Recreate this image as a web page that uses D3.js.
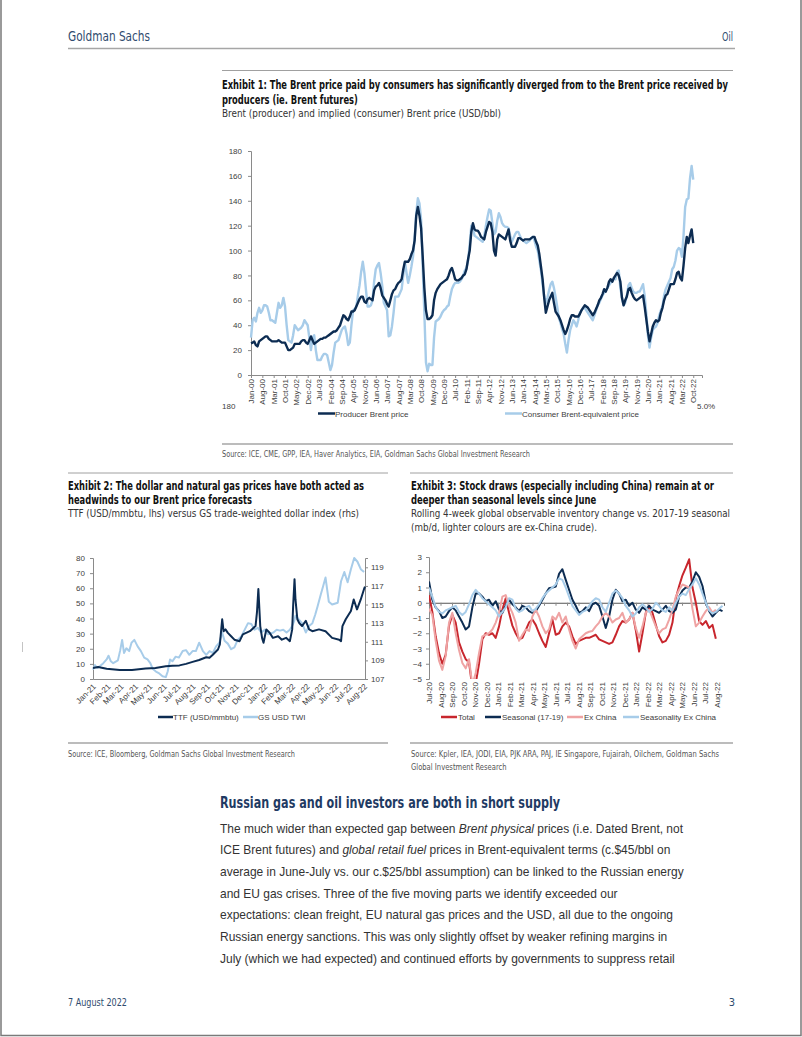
<!DOCTYPE html>
<html><head><meta charset="utf-8">
<script src="https://cdn.jsdelivr.net/npm/d3@7"></script>
<style>body{margin:0;background:#fff;}svg{display:block;}</style>
</head><body>
<svg id="page" width="802" height="1037"></svg>
<script>
// ---------------- DATA ----------------
// Exhibit 1: monthly, index 0 = Jan-00 position on the axis
const ex1YTicks = [0,20,40,60,80,100,120,140,160,180];
const ex1XLabels = ["Jan-00","Aug-00","Mar-01","Oct-01","May-02","Dec-02","Jul-03","Feb-04","Sep-04","Apr-05","Nov-05","Jun-06","Jan-07","Aug-07","Mar-08","Oct-08","May-09","Dec-09","Jul-10","Feb-11","Sep-11","Apr-12","Nov-12","Jun-13","Jan-14","Aug-14","Mar-15","Oct-15","May-16","Dec-16","Jul-17","Feb-18","Sep-18","Apr-19","Nov-19","Jun-20","Jan-21","Aug-21","Mar-22","Oct-22"];
const producerBrent = [
 25.5,26,27,24,23,27,28,29,30,31,31,29,
 28,27,27,27,27,28,27,26,26,26,23,20,
 20,21,22,25,25,25,25,27,28,28,26,25,
 28,31,28,25,26,27,28,29,29,30,30,31,
 32,33,34,35,35,36,38,40,44,48,47,45,
 44,47,51,51,52,55,58,61,63,63,59,58,
 61,62,61,60,68,71,72,74,70,64,62,60,
 57,55,60,65,68,69,72,74,75,77,85,91,
 91,91,93,97,100,108,128,135,128,118,95,70,
 52,45,45,46,48,60,66,69,71,73,74,75,
 76,77,80,84,86,82,77,76,76,77,78,80,
 81,85,93,100,115,122,117,116,116,114,111,110,
 109,115,119,123,122,115,100,96,109,113,112,111,
 110,109,113,117,108,103,103,103,106,110,110,109,
 108,109,109,109,109,110,111,111,107,104,97,87,
 77,62,50,55,60,63,66,58,51,49,47,44,
 40,36,33,36,40,45,48,48,47,47,47,49,
 52,54,56,55,54,52,50,48,50,53,56,60,
 62,65,69,67,70,75,77,75,78,80,82,80,
 75,62,56,60,63,69,70,66,63,61,60,61,
 62,63,64,55,45,35,27,33,39,42,44,43,
 44,50,54,60,64,65,69,73,73,73,77,82,
 83,78,76,88,102,111,106,112,117,106];
const consumerBrent = [
 30,44,46,43,50,54,50,52,56,56,55,50,
 44,44,43,42,50,58,54,56,62,55,40,28,
 27,26,32,40,38,36,37,38,40,44,42,40,
 30,20,30,32,20,12,12,12,15,17,17,16,
 10,4,8,18,26,27,28,32,36,38,39,33,
 24,26,40,52,53,55,64,72,83,91,82,68,
 55,55,56,60,75,85,88,90,82,72,58,55,
 52,31,32,39,50,63,63,63,66,69,80,91,
 82,74,80,87,95,110,130,142,138,125,87,50,
 10,3,9,8,8,30,43,44,45,47,50,52,
 53,55,56,63,69,72,74,74,74,75,77,80,
 84,86,92,105,120,118,112,111,110,109,108,107,
 112,120,127,133,132,122,113,115,124,130,127,122,
 120,119,119,118,112,107,110,113,115,115,112,109,
 108,107,106,107,108,110,111,108,103,100,92,84,
 73,63,58,62,68,73,75,70,63,55,46,42,
 37,33,25,18,28,36,40,44,42,39,44,50,
 52,54,54,52,50,48,46,44,48,52,56,58,
 61,64,66,68,70,72,74,75,78,77,83,84,
 70,62,56,58,64,72,74,70,67,66,66,67,
 67,70,73,64,50,32,22,30,36,38,39,42,
 48,52,55,64,69,72,75,78,85,87,92,100,
 102,101,95,112,135,141,142,158,168,157];
const ex1Legend = ["Producer Brent price","Consumer Brent-equivalent price"];

// Exhibit 2
const ex2LeftTicks = [0,10,20,30,40,50,60,70,80];
const ex2RightTicks = [107,109,111,113,115,117,119];
const ex2XLabels = ["Jan-21","Feb-21","Mar-21","Apr-21","May-21","Jun-21","Jul-21","Aug-21","Sep-21","Oct-21","Nov-21","Dec-21","Jan-22","Feb-22","Mar-22","Apr-22","May-22","Jun-22","Jul-22","Aug-22"];
const ttfDates = ["2021-01-01","2021-01-12","2021-01-30","2021-02-27","2021-03-25","2021-04-23","2021-05-14","2021-06-05","2021-06-19","2021-07-04","2021-07-18","2021-08-01","2021-08-15","2021-08-30","2021-09-06","2021-09-13","2021-09-24","2021-09-28","2021-10-03","2021-10-06","2021-10-10","2021-10-15","2021-10-22","2021-10-29","2021-11-09","2021-11-16","2021-12-01","2021-12-13","2021-12-16","2021-12-19","2021-12-23","2021-12-27","2021-12-30","2022-01-05","2022-01-12","2022-01-19","2022-01-30","2022-02-07","2022-02-16","2022-02-24","2022-03-01","2022-03-03","2022-03-06","2022-03-08","2022-03-12","2022-03-16","2022-03-22","2022-03-30","2022-04-06","2022-04-13","2022-04-27","2022-05-11","2022-05-25","2022-06-09","2022-06-13","2022-06-16","2022-06-23","2022-07-04","2022-07-10","2022-07-17","2022-07-25","2022-08-01","2022-08-03"];
const ttfValues = [7.3,8,6.8,5.9,6,7,7.3,8.4,8.8,9,10,11.3,12.6,14.4,14,16,19.5,22.8,39.5,31.6,32.8,30.5,28.3,26,25,29.5,31.6,35,44,59.5,35,27,24,32.8,30.6,27.2,28.3,26,27.2,25,32.8,48,66,52.6,39.5,37,35,38.5,32.8,31.6,32.8,31.6,27.2,26,25,35,39.5,45,52.6,46,52.6,59.5,61];
const twiDates = ["2021-01-01","2021-01-05","2021-01-10","2021-01-16","2021-01-23","2021-01-30","2021-02-03","2021-02-08","2021-02-13","2021-02-23","2021-02-28","2021-03-04","2021-03-08","2021-03-13","2021-03-19","2021-03-24","2021-03-30","2021-04-06","2021-04-13","2021-04-20","2021-04-27","2021-05-03","2021-05-08","2021-05-15","2021-05-22","2021-05-29","2021-06-05","2021-06-09","2021-06-14","2021-06-19","2021-06-26","2021-07-03","2021-07-11","2021-07-18","2021-07-25","2021-08-01","2021-08-08","2021-08-15","2021-08-23","2021-08-30","2021-09-06","2021-09-13","2021-09-20","2021-09-27","2021-10-03","2021-10-08","2021-10-15","2021-10-22","2021-10-29","2021-11-05","2021-11-13","2021-11-20","2021-11-27","2021-12-04","2021-12-11","2021-12-18","2021-12-25","2022-01-02","2022-01-09","2022-01-20","2022-01-27","2022-02-03","2022-02-10","2022-02-17","2022-02-24","2022-03-01","2022-03-05","2022-03-08","2022-03-15","2022-03-22","2022-03-30","2022-04-06","2022-04-13","2022-04-19","2022-04-24","2022-05-01","2022-05-06","2022-05-11","2022-05-18","2022-05-25","2022-06-06","2022-06-13","2022-06-20","2022-06-27","2022-07-04","2022-07-11","2022-07-18","2022-07-25","2022-08-01"];
const twiValues = [108,108.5,108.2,108.4,108.7,109.1,109.5,108.9,108.7,109,110.1,111.2,109.8,110.3,110,110.9,111.2,110.5,110,109.3,109.1,108.7,108.1,107.8,107.6,107.3,107.2,107.8,109.1,108.9,109.4,109.3,110,110.1,109.6,110,110,110.9,110,109.6,110,109.8,110.5,110.9,112,111.1,110.8,110.2,110.4,111.2,111.6,112.3,113,112.9,112.3,112.5,112,112.3,111.8,112,112.3,112.2,112.3,112,112.3,112.7,113.2,113.8,113.4,113,112,112.7,113,113.9,114.8,116.1,117,117.9,115.3,115,115.2,117.5,118.5,117.4,118.8,120,119.6,118.8,118.5];
const ex2Legend = ["TTF (USD/mmbtu)","GS USD TWI"];

// Exhibit 3: samples every ex3StepMonths months from Jul-20
const ex3YTicks = [3,2,1,0,-1,-2,-3,-4,-5];
const ex3XLabels = ["Jul-20","Aug-20","Sep-20","Oct-20","Nov-20","Dec-20","Jan-21","Feb-21","Mar-21","Apr-21","May-21","Jun-21","Jul-21","Aug-21","Sep-21","Oct-21","Nov-21","Dec-21","Jan-22","Feb-22","Mar-22","Apr-22","May-22","Jun-22","Jul-22","Aug-22"];
const ex3StepMonths = 0.29;
const ex3Total = [0.5,-0.6,-2.2,-3.3,-4.0,-3.4,-1.5,-0.8,-1.3,-2.6,
 -3.2,-3.7,-3.9,-5.6,-5.3,-4.0,-2.4,-2.0,-2.1,-2.0,
 -2.3,-1.55,-0.45,0.3,-0.66,-1.5,-2.0,-2.4,-2.3,-1.8,
 -1.3,-1.1,-1.45,-2.0,-2.5,-2.9,-2.0,-1.1,-2.1,-2.0,
 -1.55,-1.3,-1.55,-2.2,-2.7,-2.5,-2.4,-2.3,-2.3,-2.2,
 -2.1,-2.4,-2.5,-2.6,-2.7,-2.6,-2.1,-1.55,-1.2,-1.3,
 -1.1,-0.66,-1.8,-3.2,-2.0,-0.66,-0.2,-0.66,-1.45,-2.2,
 -2.6,-2.5,-2.1,-1.3,0.3,1.1,1.8,2.3,2.85,1.0,
 0.0,-1.2,-1.45,-1.2,-1.65,-1.45,-2.36];
const ex3Seasonal = [1.4,0.2,-0.3,-0.55,-1.0,-0.9,-0.55,-0.3,-0.5,-0.9,
 -1.3,-1.75,-1.55,-0.3,0.6,0.6,0.4,0.1,0.2,-0.2,
 0.1,-0.45,-0.66,-0.2,0.2,-0.1,-0.3,-0.55,-0.2,-0.3,
 -0.55,-0.66,-0.55,-0.2,0.2,0.6,0.95,1.0,1.07,1.9,
 2.2,1.5,0.85,0.2,-0.2,-0.66,-0.55,-0.3,-0.55,-0.1,
 0.0,-0.2,-0.9,-1.65,-0.9,0.2,0.85,0.6,0.1,0.2,
 -0.2,0.0,-0.45,-0.66,-0.3,-0.45,-0.2,-0.45,-0.55,-0.66,
 -0.45,-0.2,-0.55,-0.66,-0.45,0.4,0.8,1.0,1.0,1.4,
 2.0,1.7,1.1,0.0,-0.55,-0.9,-0.66,-0.45,-0.55];
const ex3ExChina = [-0.4,-0.8,-2.5,-3.8,-4.4,-3.5,-1.3,-0.66,-2.0,-3.1,
 -3.95,-4.3,-3.7,-5.4,-4.6,-3.3,-2.2,-2.1,-2.0,-1.75,
 -1.3,-0.66,0.4,0.5,-0.2,-0.66,-1.3,-2.5,-2.1,-1.75,
 -1.85,-0.9,-0.45,-0.9,-1.55,-2.0,-1.75,-0.9,-1.1,-0.66,
 -1.3,-0.9,-1.75,-2.5,-3.0,-2.4,-2.2,-2.0,-1.9,-1.85,
 -1.55,-1.3,-0.9,-0.66,-0.9,-1.3,-1.1,-1.0,-0.66,-1.3,
 -1.1,-0.66,-1.65,-2.3,-1.55,-0.66,-0.45,-1.0,-1.55,-2.0,
 -1.75,-1.65,-1.1,-0.45,0.4,0.85,1.2,1.1,1.0,-0.4,
 -1.55,-1.3,-0.9,-0.55,-0.3,-0.66,-0.45];
const ex3SeasExChina = [1.0,0.4,-0.3,-0.6,-0.7,-0.5,-0.4,-0.3,-0.2,-0.6,
 -0.8,-0.6,-0.1,0.5,0.85,0.6,0.3,0.1,-0.1,-0.3,
 -0.5,-0.9,-0.6,-0.3,0.3,0.2,-0.4,-0.6,-0.5,-0.3,
 -0.2,-0.55,-0.4,-0.1,0.3,0.6,0.8,1.0,1.2,1.6,
 1.5,1.0,0.4,-0.2,-0.5,-0.8,-0.6,-0.5,-0.2,0.1,
 0.3,0.2,-0.3,-0.6,0.0,0.6,0.8,0.6,0.3,-0.2,
 -0.5,-0.9,-0.7,-0.3,-0.1,-0.3,-0.6,-0.4,0.0,-0.2,
 -0.5,-0.6,-0.3,-0.5,0.0,0.4,0.6,0.5,0.9,1.2,
 1.6,1.2,0.6,0.0,-0.5,-0.7,-0.6,-0.4,-0.2];
const ex3Legend = ["Total","Seasonal (17-19)","Ex China","Seasonality Ex China"];

// ---------------- RENDER ----------------
const svg = d3.select("#page");
const COND = "'Liberation Sans Narrow','DejaVu Sans Condensed','Roboto Condensed','Liberation Sans',sans-serif";
const SANS = "'Liberation Sans',Arial,Helvetica,sans-serif";
const NAVY = "#0c2c52", LIGHT = "#a7cce9", RED = "#c8262d", PINK = "#efa3a3";
const AX = "#8a8a8a", LAB = "#404040", HEAD = "#2f4b6e";
svg.append("rect").attr("width",802).attr("height",1037).attr("fill","#fff");

function T(x,y,s,o){
  o = o||{};
  const t = svg.append("text").attr("x",x).attr("y",y)
    .attr("font-family",o.family||SANS).attr("font-size",o.size||8)
    .attr("font-weight",o.weight||"normal").attr("fill",o.fill||LAB)
    .attr("text-anchor",o.anchor||"start").text(s);
  if (o.width) t.attr("textLength",o.width).attr("lengthAdjust","spacingAndGlyphs");
  return t;
}
// block of lines: first line fitted to width, same compression ratio for others
function block(x,y0,lh,lines,o,firstW){
  const nodes = lines.map((s,i)=>T(x,y0+i*lh,s,Object.assign({},o,{width:null})));
  const r = firstW / nodes[0].node().getComputedTextLength();
  nodes.forEach(n=>n.attr("textLength",n.node().getComputedTextLength()*r).attr("lengthAdjust","spacingAndGlyphs"));
  return nodes;
}
function rule(x1,x2,y,w,c){ svg.append("line").attr("x1",x1).attr("x2",x2).attr("y1",y).attr("y2",y).attr("stroke",c||"#9a9a9a").attr("stroke-width",w||1); }
function styleAxis(g){
  g.attr("font-family",SANS).attr("font-size",8);
  g.select(".domain").attr("stroke",AX);
  g.selectAll(".tick line").attr("stroke",AX);
  g.selectAll(".tick text").attr("fill",LAB);
}

// page border and header/footer
svg.append("path").attr("d","M1,-2 L1,1035.5 L801,1035.5 L801,-2").attr("fill","none").attr("stroke","#7a7a7a").attr("stroke-width",1.5);
svg.append("line").attr("x1",22.5).attr("x2",22.5).attr("y1",642).attr("y2",652).attr("stroke","#c4c4c4");
T(68,41,"Goldman Sachs",{family:COND,size:14,fill:HEAD,width:82});
T(733,41,"Oil",{family:COND,size:12,fill:HEAD,anchor:"end",width:11});
rule(68,735,48.5,1.5,"#a6a6a6");
T(68,1006,"7 August 2022",{family:COND,size:11,fill:HEAD,width:59});
T(735,1006,"3",{family:COND,size:11,fill:HEAD,anchor:"end"});

// ---------- Exhibit 1 ----------
rule(222,733,70.5,1,"#a0a0a0");
block(222,88.5,15.5,["Exhibit 1: The Brent price paid by consumers has significantly diverged from to the Brent price received by","producers (ie. Brent futures)"],{family:COND,size:11.5,weight:"bold",fill:"#111"},506);
T(222,116.5,"Brent (producer) and implied (consumer) Brent price (USD/bbl)",{family:COND,size:11,fill:"#333",width:279});

const x1 = d3.scaleLinear().domain([0,278.4]).range([251,702]);
const y1 = d3.scaleLinear().domain([0,180]).range([375,151]);
const gy1 = svg.append("g").attr("transform","translate(251,0)")
  .call(d3.axisLeft(y1).tickValues(ex1YTicks).tickSize(3).tickPadding(6));
styleAxis(gy1);
const gx1 = svg.append("g").attr("transform","translate(0,375)")
  .call(d3.axisBottom(x1).tickValues(ex1XLabels.map((d,i)=>i*7)).tickFormat((d,i)=>ex1XLabels[i]).tickSize(3));
styleAxis(gx1);
gx1.selectAll(".tick text").attr("transform","rotate(-90)").attr("x",-4).attr("y",0).attr("dy","0.33em").attr("text-anchor","end");

const line1 = d3.line().x((d,i)=>x1(i)).y(d=>y1(d));
svg.append("path").datum(consumerBrent).attr("d",line1).attr("fill","none").attr("stroke",LIGHT).attr("stroke-width",2.4).attr("stroke-linejoin","round");
svg.append("path").datum(producerBrent).attr("d",line1).attr("fill","none").attr("stroke",NAVY).attr("stroke-width",2.4).attr("stroke-linejoin","round");

T(222,409,"180",{size:8});
T(697,409,"5.0%",{size:8});
svg.append("line").attr("x1",318).attr("x2",335).attr("y1",413.5).attr("y2",413.5).attr("stroke",NAVY).attr("stroke-width",2.5);
T(335,416.5,ex1Legend[0],{size:8});
svg.append("line").attr("x1",505).attr("x2",522).attr("y1",413.5).attr("y2",413.5).attr("stroke",LIGHT).attr("stroke-width",2.5);
T(522,416.5,ex1Legend[1],{size:8});
rule(222,733,444,1.5,"#a6a6a6");
T(222,457,"Source: ICE, CME, GPP, IEA, Haver Analytics, EIA, Goldman Sachs Global Investment Research",{family:COND,size:9.5,fill:"#555",width:308});

// ---------- Exhibit 2 ----------
rule(68,388,473,1,"#a0a0a0");
block(68,489.5,14.8,["Exhibit 2: The dollar and natural gas prices have both acted as","headwinds to our Brent price forecasts"],{family:COND,size:11.5,weight:"bold",fill:"#111"},296);
T(68,516.5,"TTF (USD/mmbtu, lhs) versus GS trade-weighted dollar index (rhs)",{family:COND,size:11,fill:"#333",width:291});

const pd = d3.timeParse("%Y-%m-%d");
const x2 = d3.scaleTime().domain([pd("2021-01-01"),pd("2022-08-03")]).range([93,365]);
const y2L = d3.scaleLinear().domain([0,80]).range([679,558]);
const y2R = d3.scaleLinear().domain([107,120]).range([679,558]);
const gy2L = svg.append("g").attr("transform","translate(93,0)").call(d3.axisLeft(y2L).tickValues(ex2LeftTicks).tickSize(3).tickPadding(5));
styleAxis(gy2L);
const gy2R = svg.append("g").attr("transform","translate(365,0)").call(d3.axisRight(y2R).tickValues(ex2RightTicks).tickSize(3).tickPadding(3));
styleAxis(gy2R);
const monthTicks2 = d3.timeMonth.range(pd("2021-01-01"),pd("2022-08-02"));
const gx2 = svg.append("g").attr("transform","translate(0,679)")
  .call(d3.axisBottom(x2).tickValues(monthTicks2).tickFormat((d,i)=>ex2XLabels[i]).tickSize(0));
styleAxis(gx2);
gx2.selectAll(".tick text").attr("x",0).attr("y",0).attr("dy","0.35em").attr("transform","translate(1,6) rotate(-45)").attr("text-anchor","end");

const twi = twiDates.map((d,i)=>({d:pd(d),v:twiValues[i]}));
const ttf = ttfDates.map((d,i)=>({d:pd(d),v:ttfValues[i]}));
svg.append("path").datum(twi).attr("d",d3.line().x(p=>x2(p.d)).y(p=>y2R(p.v))).attr("fill","none").attr("stroke",LIGHT).attr("stroke-width",2).attr("stroke-linejoin","round");
svg.append("path").datum(ttf).attr("d",d3.line().x(p=>x2(p.d)).y(p=>y2L(p.v))).attr("fill","none").attr("stroke",NAVY).attr("stroke-width",2).attr("stroke-linejoin","round");

svg.append("line").attr("x1",158).attr("x2",173).attr("y1",717).attr("y2",717).attr("stroke",NAVY).attr("stroke-width",2.5);
T(173,720,ex2Legend[0],{size:8});
svg.append("line").attr("x1",243).attr("x2",258).attr("y1",717).attr("y2",717).attr("stroke",LIGHT).attr("stroke-width",2.5);
T(258,720,ex2Legend[1],{size:8});
rule(68,388,743,1.5,"#a6a6a6");
T(68,757,"Source: ICE, Bloomberg, Goldman Sachs Global Investment Research",{family:COND,size:9.5,fill:"#555",width:227});

// ---------- Exhibit 3 ----------
rule(410,733,473,1,"#a0a0a0");
block(411,489.5,14.8,["Exhibit 3: Stock draws (especially including China) remain at or","deeper than seasonal levels since June"],{family:COND,size:11.5,weight:"bold",fill:"#111"},303);
block(411,516.5,14.5,["Rolling 4-week global observable inventory change vs. 2017-19 seasonal","(mb/d, lighter colours are ex-China crude)."],{family:COND,size:11,fill:"#333"},319);

const x3 = d3.scaleLinear().domain([0,25.65]).range([429,724]);
const y3 = d3.scaleLinear().domain([-5,3]).range([679,557]);
const gy3 = svg.append("g").attr("transform","translate(429,0)").call(d3.axisLeft(y3).tickValues(ex3YTicks).tickSize(3).tickPadding(4));
styleAxis(gy3);
const gz3 = svg.append("g").attr("transform",`translate(0,${y3(0)})`).call(d3.axisBottom(x3).tickValues(ex3XLabels.map((d,i)=>i)).tickFormat("").tickSize(3));
styleAxis(gz3);
gz3.select(".domain").attr("stroke","#555");
const gx3 = svg.append("g").attr("transform","translate(0,679)").call(d3.axisBottom(x3).tickValues(ex3XLabels.map((d,i)=>i)).tickFormat((d,i)=>ex3XLabels[i]).tickSize(0));
styleAxis(gx3);
gx3.select(".domain").remove();
gx3.selectAll(".tick text").attr("transform","rotate(-90)").attr("x",-3).attr("y",0).attr("dy","0.33em").attr("text-anchor","end");

svg.append("clipPath").attr("id","c3").append("rect").attr("x",429).attr("y",555).attr("width",300).attr("height",124);
const line3 = d3.line().x((d,i)=>x3(i*ex3StepMonths)).y(d=>y3(d));
const g3 = svg.append("g").attr("clip-path","url(#c3)");
[[ex3Total,RED],[ex3Seasonal,NAVY],[ex3ExChina,PINK],[ex3SeasExChina,LIGHT]].forEach(([s,c])=>{
  g3.append("path").datum(s).attr("d",line3).attr("fill","none").attr("stroke",c).attr("stroke-width",2).attr("stroke-linejoin","round");
});
const leg3 = [[441,457,RED],[485,501,NAVY],[567,583,PINK],[623,639,LIGHT]];
leg3.forEach(([a,b,c],i)=>{
  svg.append("line").attr("x1",a).attr("x2",b).attr("y1",717).attr("y2",717).attr("stroke",c).attr("stroke-width",2.5);
  T(b+1,720,ex3Legend[i],{size:8});
});
rule(410,733,743,1.5,"#a6a6a6");
block(411,757,13,["Source: Kpler, IEA, JODI, EIA, PJK ARA, PAJ, IE Singapore, Fujairah, Oilchem, Goldman Sachs","Global Investment Research"],{family:COND,size:9.5,fill:"#555"},308);

// ---------- Section text ----------
T(220,808,"Russian gas and oil investors are both in short supply",{family:COND,size:16,weight:"bold",fill:"#1f3b63",width:340});
const bodyLines = [
 [["The much wider than expected gap between ",0],["Brent physical",1],[" prices (i.e. Dated Brent, not",0]],
 [["ICE Brent futures) and ",0],["global retail fuel",1],[" prices in Brent-equivalent terms (c.$45/bbl on",0]],
 [["average in June-July vs. our c.$25/bbl assumption) can be linked to the Russian energy",0]],
 [["and EU gas crises. Three of the five moving parts we identify exceeded our",0]],
 [["expectations: clean freight, EU natural gas prices and the USD, all due to the ongoing",0]],
 [["Russian energy sanctions. This was only slightly offset by weaker refining margins in",0]],
 [["July (which we had expected) and continued efforts by governments to suppress retail",0]]
];
const bodyNodes = bodyLines.map((parts,i)=>{
  const t = svg.append("text").attr("x",220).attr("y",832.5+i*21.7).attr("font-family",SANS).attr("font-size",13).attr("fill","#333");
  parts.forEach(([s,it])=>t.append("tspan").attr("font-style",it?"italic":"normal").text(s));
  return t;
});
const rb = 463/bodyNodes[0].node().getComputedTextLength();
bodyNodes.forEach(n=>n.attr("textLength",n.node().getComputedTextLength()*rb).attr("lengthAdjust","spacingAndGlyphs"));
</script>
</body></html>
